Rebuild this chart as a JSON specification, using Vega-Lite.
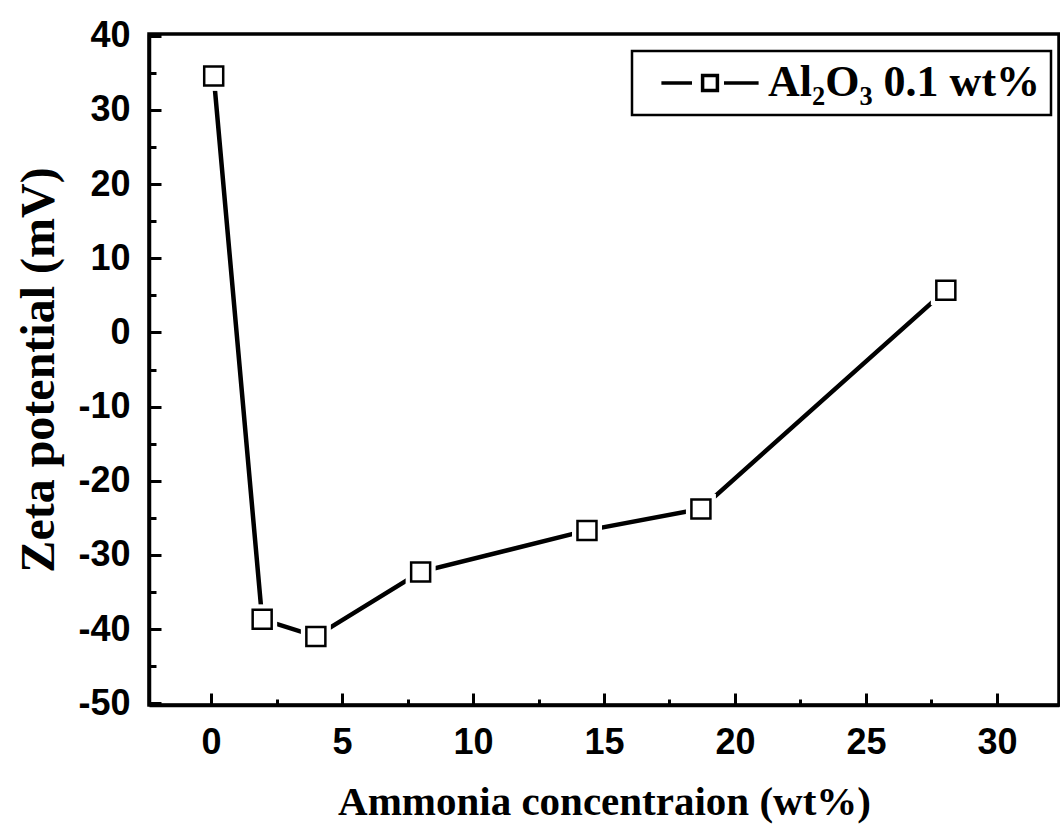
{
  "$schema": "https://vega.github.io/schema/vega-lite/v6.json",
  "width": 910,
  "height": 671,
  "autosize": {"type": "none"},
  "padding": {"left": 149, "top": 34, "right": 1, "bottom": 123},
  "background": "white",
  "config": {
    "view": {"stroke": "black", "strokeWidth": 3.5},
    "axis": {"grid": false, "domainColor": "black", "tickColor": "black", "labelColor": "black", "titleColor": "black"}
  },
  "data": {
    "values": [
      {"c": 0.1, "z": 34.6, "s": "Al₂O₃ 0.1 wt%"},
      {"c": 1.95, "z": -38.7, "s": "Al₂O₃ 0.1 wt%"},
      {"c": 4.0, "z": -41.0, "s": "Al₂O₃ 0.1 wt%"},
      {"c": 8.0, "z": -32.3, "s": "Al₂O₃ 0.1 wt%"},
      {"c": 14.35, "z": -26.7, "s": "Al₂O₃ 0.1 wt%"},
      {"c": 18.7, "z": -23.8, "s": "Al₂O₃ 0.1 wt%"},
      {"c": 28.05, "z": 5.7, "s": "Al₂O₃ 0.1 wt%"}
    ]
  },
  "layer": [
    {
      "mark": {"type": "line", "strokeWidth": 4.5},
      "encoding": {
        "x": {
          "field": "c", "type": "quantitative",
          "scale": {"domain": [-2.37, 32.37], "nice": false, "zero": false},
          "axis": {
            "orient": "bottom",
            "values": [0, 5, 10, 15, 20, 25, 30],
            "tickSize": -12, "tickWidth": 3, "domainWidth": 3.5,
            "labelFont": "Liberation Sans", "labelFontWeight": "bold", "labelFontSize": 36,
            "labelPadding": 32, "labelFlush": false,
            "title": "Ammonia concentraion (wt%)",
            "titleFont": "Liberation Serif", "titleFontWeight": "bold", "titleFontSize": 41,
            "titlePadding": 22
          }
        },
        "y": {
          "field": "z", "type": "quantitative",
          "scale": {"domain": [-50.25, 40.25], "nice": false, "zero": false},
          "axis": {
            "orient": "left",
            "values": [-50, -40, -30, -20, -10, 0, 10, 20, 30, 40],
            "labelExpr": "replace(datum.label, '−', '-')",
            "tickSize": -12, "tickWidth": 3, "domainWidth": 3.5,
            "labelFont": "Liberation Sans", "labelFontWeight": "bold", "labelFontSize": 36,
            "labelPadding": 31, "labelFlush": false,
            "title": "Zeta potential (mV)",
            "titleFont": "Liberation Serif", "titleFontWeight": "bold", "titleFontSize": 48,
            "titlePadding": 14
          }
        },
        "color": {
          "field": "s", "type": "nominal",
          "scale": {"range": ["black"]},
          "legend": {
            "orient": "none", "legendX": 483, "legendY": 17,
            "title": null,
            "strokeColor": "black", "fillColor": "white",
            "padding": 10,
            "symbolType": "M-2.43,0H-0.9M0.7,0H2.43M-0.37,-0.37H0.37V0.37H-0.37Z",
            "symbolSize": 1600,
            "symbolStrokeWidth": 3.5,
            "symbolFillColor": "white",
            "symbolStrokeColor": "black",
            "symbolOffset": 46,
            "labelOffset": 36,
            "labelLimit": 500,
            "labelFont": "Liberation Serif", "labelFontWeight": "bold", "labelFontSize": 44,
            "labelColor": "black",
            "encode": {"legend": {"update": {"strokeWidth": {"value": 2.5}}}}
          }
        }
      }
    },
    {
      "mark": {"type": "point", "shape": "square", "size": 900, "filled": true, "color": "white", "opacity": 1},
      "encoding": {
        "x": {"field": "c", "type": "quantitative", "axis": null},
        "y": {"field": "z", "type": "quantitative", "axis": null}
      }
    },
    {
      "mark": {"type": "point", "shape": "square", "size": 361, "fill": "white", "stroke": "black", "strokeWidth": 2.5, "opacity": 1, "fillOpacity": 1},
      "encoding": {
        "x": {
          "field": "c", "type": "quantitative",
          "axis": {
            "orient": "bottom", "values": [2.5, 7.5, 12.5, 17.5, 22.5, 27.5],
            "tickSize": -6, "tickWidth": 3, "domain": false, "labels": false, "title": null
          }
        },
        "y": {
          "field": "z", "type": "quantitative",
          "axis": {
            "orient": "left", "values": [-45, -35, -25, -15, -5, 5, 15, 25, 35],
            "tickSize": -7, "tickWidth": 3, "domain": false, "labels": false, "title": null
          }
        }
      }
    }
  ],
  "resolve": {"axis": {"x": "independent", "y": "independent"}}
}
